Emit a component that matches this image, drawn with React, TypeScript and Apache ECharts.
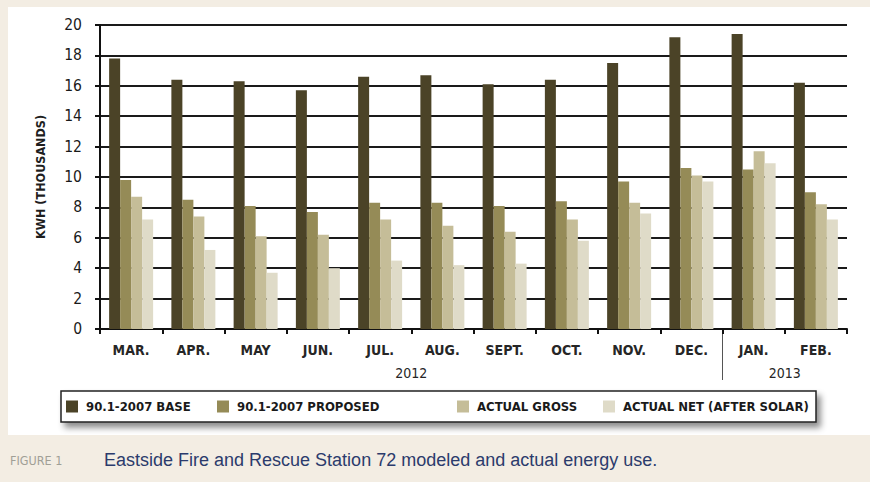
import React, { useEffect, useRef } from 'react';
import * as echarts from 'echarts';

const categories = ['MAR.', 'APR.', 'MAY', 'JUN.', 'JUL.', 'AUG.', 'SEPT.', 'OCT.', 'NOV.', 'DEC.', 'JAN.', 'FEB.'];
const seriesNames = ['90.1-2007 BASE', '90.1-2007 PROPOSED', 'ACTUAL GROSS', 'ACTUAL NET (AFTER SOLAR)'];
const baseValues = [17.8, 16.4, 16.3, 15.7, 16.6, 16.7, 16.1, 16.4, 17.5, 19.2, 19.4, 16.2];
const proposedValues = [9.8, 8.5, 8.1, 7.7, 8.3, 8.3, 8.1, 8.4, 9.7, 10.6, 10.5, 9.0];
const grossValues = [8.7, 7.4, 6.1, 6.2, 7.2, 6.8, 6.4, 7.2, 8.3, 10.1, 11.7, 8.2];
const netValues = [7.2, 5.2, 3.7, 4.0, 4.5, 4.2, 4.3, 5.8, 7.6, 9.7, 10.9, 7.2];
const years = ['2012', '2013'];
const yearMonthCounts = [10, 2];
const yAxisName = 'KWH (THOUSANDS)';
const figureLabel = 'FIGURE 1';
const captionText = 'Eastside Fire and Rescue Station 72 modeled and actual energy use.';

const colors = ['#4b4327', '#958b57', '#c5bd98', '#dfdbc8'];
const NARROW = "'Liberation Sans Narrow', 'DejaVu Sans Condensed', 'Liberation Sans', sans-serif";
const legendLefts = [66, 217, 457, 603];

export default function App() {
  const ref = useRef<HTMLDivElement>(null);

  useEffect(() => {
    if (!ref.current) return;
    const chart = echarts.init(ref.current, null, { renderer: 'svg', width: 870, height: 482 });
    const valueSets = [baseValues, proposedValues, grossValues, netValues];

    chart.setOption({
      animation: false,
      backgroundColor: '#f3ede3',
      grid: { left: 100, right: 23, top: 25, bottom: 153 },
      xAxis: {
        type: 'category',
        data: categories,
        axisLine: { show: true, lineStyle: { color: '#111', width: 2 } },
        axisTick: { show: true, length: 5, interval: 0, lineStyle: { color: '#111', width: 2 } },
        axisLabel: {
          interval: 0,
          margin: 14,
          color: '#262626',
          fontFamily: NARROW,
          fontSize: 14,
          fontWeight: 'bold',
        },
        splitLine: { show: false },
      },
      yAxis: {
        type: 'value',
        min: 0,
        max: 20,
        interval: 2,
        name: yAxisName,
        nameLocation: 'middle',
        nameRotate: 90,
        nameGap: 53,
        nameTextStyle: { color: '#1e1e1e', fontFamily: NARROW, fontSize: 12.5, fontWeight: 'bold' },
        axisLine: { show: true, lineStyle: { color: '#111', width: 2 } },
        axisTick: { show: true, length: 5, lineStyle: { color: '#111', width: 2 } },
        axisLabel: { margin: 18, color: '#1a1a1a', fontFamily: NARROW, fontSize: 15.5 },
        splitLine: { show: true, lineStyle: { color: '#1a1a1a', width: 2 } },
      },
      legend: seriesNames.map((n, i) => ({
        data: [n],
        left: legendLefts[i],
        top: 400,
        padding: 0,
        itemWidth: 12,
        itemHeight: 12,
        itemGap: 0,
        icon: 'rect',
        selectedMode: false,
        textStyle: { color: '#1a1a1a', fontFamily: NARROW, fontSize: 13, fontWeight: 'bold', padding: [0, 0, 0, 3] },
      })),
      series: seriesNames.map((n, i) => ({
        name: n,
        type: 'bar',
        data: valueSets[i],
        barWidth: 11,
        barGap: '0%',
        itemStyle: { color: colors[i] },
        z: 3,
      })),
    });

    const xOf = (c: string) => chart.convertToPixel({ xAxisIndex: 0 }, c) as number;
    const band = xOf(categories[1]) - xOf(categories[0]);
    const y0 = chart.convertToPixel({ yAxisIndex: 0 }, 0) as number;
    const dyn: any[] = [];
    let start = 0;
    years.forEach((yr, i) => {
      const n = yearMonthCounts[i];
      const left = xOf(categories[start]) - band / 2;
      const right = left + n * band;
      dyn.push({
        type: 'text',
        x: (left + right) / 2,
        y: y0 + 44,
        style: {
          text: yr,
          align: 'center',
          verticalAlign: 'middle',
          fill: '#262626',
          font: `14px ${NARROW}`,
        },
      });
      if (i > 0) {
        dyn.push({
          type: 'line',
          shape: { x1: left, y1: y0 + 2, x2: left, y2: y0 + 51 },
          style: { stroke: '#555', lineWidth: 1 },
        });
      }
      start += n;
    });

    chart.setOption({
      graphic: {
        elements: [
          { type: 'rect', z: -10, shape: { x: 8, y: 7, width: 862, height: 428 }, style: { fill: '#ffffff' } },
          {
            type: 'rect',
            z: 1,
            shape: { x: 61, y: 391, width: 755, height: 31 },
            style: {
              fill: '#ffffff',
              stroke: '#222',
              lineWidth: 1.5,
              shadowBlur: 6,
              shadowOffsetX: 4,
              shadowOffsetY: 5,
              shadowColor: 'rgba(0,0,0,0.45)',
            },
          },
          {
            type: 'text',
            x: 10,
            y: 460,
            style: { text: figureLabel, fill: '#a09f96', font: `12.5px ${NARROW}`, verticalAlign: 'middle' },
          },
          {
            type: 'text',
            x: 104,
            y: 460,
            style: {
              text: captionText,
              fill: '#2b3b6c',
              font: "18px 'Liberation Sans Narrow', 'Liberation Sans', sans-serif",
              verticalAlign: 'middle',
            },
          },
          ...dyn,
        ],
      },
    });

    return () => chart.dispose();
  }, []);

  return <div ref={ref} style={{ position: 'absolute', left: 0, top: 0, width: 870, height: 482 }} />;
}
